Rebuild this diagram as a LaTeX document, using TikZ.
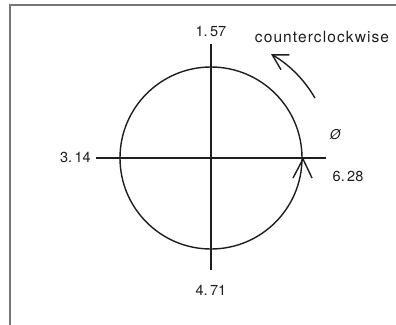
\documentclass[tikz,border=0pt]{standalone}
\usepackage{fontspec}
\setmainfont{TeX Gyre Heros}
\newfontfamily\lblfont[LetterSpace=7]{TeX Gyre Heros}
\usetikzlibrary{arrows.meta}
\definecolor{ink}{HTML}{1E1E1E}
\definecolor{framec}{HTML}{777777}
\begin{document}
\begin{tikzpicture}[x=1pt,y=-1pt,
  lbl/.style={font=\fontsize{14.5}{14.5}\selectfont, text=ink, inner sep=0pt},
  curve/.style={draw=ink, line width=1.4pt},
  axis/.style={draw=ink, line width=1.2pt}]
\useasboundingbox (0,0) rectangle (396,324);
\fill[white] (0,0) rectangle (396,324);
% frame
\draw[framec, line width=1.6pt] (10,330) -- (10,5) -- (400,5);
% axes
\coordinate (O) at (211,158);
\coordinate (L) at (96,158);
\coordinate (R) at (326,158);
\coordinate (T) at (211,44);
\coordinate (B) at (211,270);
\draw[axis] (L) -- (R);
\draw[axis] (T) -- (B);
% circle
\draw[curve] (O) circle[radius=91];
% labels
\node[lbl] (n157) at (211,31) {1.\,57};
\node[lbl, anchor=east] (n314) at (91,157) {3.\,14};
\node[lbl] (n471) at (211,290) {4.\,71};
\node[lbl] (n628) at (348,176) {6.\,28};
\node[lbl, font=\fontsize{13.5}{13.5}\selectfont\itshape] (zero) at (335,135) {Ø};
\node[lbl, font=\fontsize{15.5}{15.5}\selectfont\lblfont] (ccw) at (322,37) {counterclockwise};
% big arrow
\draw[curve, -{Straight Barb[length=15pt,width=17pt,line width=1.4pt]}] (O) ++(-30:120) arc[start angle=-30, end angle=-60, radius=120];
% small chevron on circle
\coordinate (tip) at (303,159);
\draw[curve, line join=miter] (293,178) -- (tip) -- (312,178);
\end{tikzpicture}
\end{document}
